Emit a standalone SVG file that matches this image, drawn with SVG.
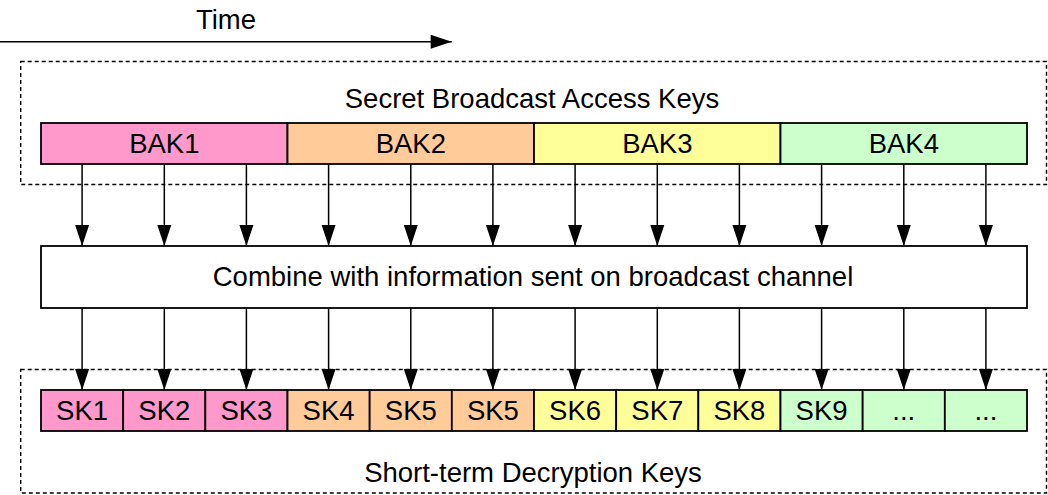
<svg xmlns="http://www.w3.org/2000/svg" width="1048" height="495" viewBox="0 0 1048 495">
  <style>
    text { font-family: "Liberation Sans", Arial, sans-serif; font-size: 27.5px; fill: #000; text-anchor: middle; }
    .frame { fill: none; stroke: #000; stroke-width: 1.4; stroke-dasharray: 4 3; }
    .box { stroke: #000; stroke-width: 1.8; }
    .pink { fill: #FF99CC; }
    .orange { fill: #FFCC99; }
    .yellow { fill: #FFFF99; }
    .green { fill: #CCFFCC; }
    .white { fill: #FFFFFF; }
    .conn { stroke: #000; stroke-width: 1.5; fill: none; marker-end: url(#head); }
  </style>
  <defs>
    <marker id="head" markerUnits="userSpaceOnUse" markerWidth="23" markerHeight="15" refX="21" refY="7" orient="auto" overflow="visible">
      <path d="M0,0 L21,7 L0,14 Z" fill="#000"/>
    </marker>
  </defs>

  <!-- time axis -->
  <g id="time">
    <text x="226" y="28.5">Time</text>
    <line class="conn" x1="0" y1="41.7" x2="451.7" y2="41.7"/>
  </g>

  <!-- dashed groupings -->
  <g id="bak-group">
    <rect class="frame" x="20.7" y="61.5" width="1025.8" height="123"/>
    <text x="532" y="107.5">Secret Broadcast Access Keys</text>
  </g>
  <g id="sk-group">
    <rect class="frame" x="20.7" y="369.5" width="1025.8" height="123.5"/>
    <text x="533" y="482">Short-term Decryption Keys</text>
  </g>

  <!-- broadcast access keys -->
  <g id="bak1"><rect class="box pink" x="41" y="123" width="246.5" height="41"/><text x="164.3" y="152.5">BAK1</text></g>
  <g id="bak2"><rect class="box orange" x="287.5" y="123" width="246.5" height="41"/><text x="410.8" y="152.5">BAK2</text></g>
  <g id="bak3"><rect class="box yellow" x="534" y="123" width="246.5" height="41"/><text x="657.3" y="152.5">BAK3</text></g>
  <g id="bak4"><rect class="box green" x="780.5" y="123" width="246.5" height="41"/><text x="903.8" y="152.5">BAK4</text></g>

  <!-- combiner -->
  <g id="combine">
    <rect class="box white" x="41" y="246" width="986" height="62"/>
    <text x="533" y="285.5">Combine with information sent on broadcast channel</text>
  </g>

  <!-- short-term keys -->
  <g id="sk1"><rect class="box pink" x="41" y="390" width="82.17" height="41"/><text x="82.1" y="420">SK1</text></g>
  <g id="sk2"><rect class="box pink" x="123.17" y="390" width="82.17" height="41"/><text x="164.3" y="420">SK2</text></g>
  <g id="sk3"><rect class="box pink" x="205.33" y="390" width="82.17" height="41"/><text x="246.4" y="420">SK3</text></g>
  <g id="sk4"><rect class="box orange" x="287.5" y="390" width="82.17" height="41"/><text x="328.6" y="420">SK4</text></g>
  <g id="sk5a"><rect class="box orange" x="369.67" y="390" width="82.17" height="41"/><text x="410.8" y="420">SK5</text></g>
  <g id="sk5b"><rect class="box orange" x="451.83" y="390" width="82.17" height="41"/><text x="492.9" y="420">SK5</text></g>
  <g id="sk6"><rect class="box yellow" x="534" y="390" width="82.17" height="41"/><text x="575.1" y="420">SK6</text></g>
  <g id="sk7"><rect class="box yellow" x="616.17" y="390" width="82.17" height="41"/><text x="657.3" y="420">SK7</text></g>
  <g id="sk8"><rect class="box yellow" x="698.33" y="390" width="82.17" height="41"/><text x="739.4" y="420">SK8</text></g>
  <g id="sk9"><rect class="box green" x="780.5" y="390" width="82.17" height="41"/><text x="821.6" y="420">SK9</text></g>
  <g id="sk10"><rect class="box green" x="862.67" y="390" width="82.17" height="41"/><text x="903.8" y="420">...</text></g>
  <g id="sk11"><rect class="box green" x="944.83" y="390" width="82.17" height="41"/><text x="985.9" y="420">...</text></g>

  <!-- connectors: access keys to combiner, combiner to short-term keys -->
  <g id="connectors">
    <path class="conn" d="M82.1,164 V246"/>
    <path class="conn" d="M164.3,164 V246"/>
    <path class="conn" d="M246.4,164 V246"/>
    <path class="conn" d="M328.6,164 V246"/>
    <path class="conn" d="M410.8,164 V246"/>
    <path class="conn" d="M492.9,164 V246"/>
    <path class="conn" d="M575.1,164 V246"/>
    <path class="conn" d="M657.3,164 V246"/>
    <path class="conn" d="M739.4,164 V246"/>
    <path class="conn" d="M821.6,164 V246"/>
    <path class="conn" d="M903.8,164 V246"/>
    <path class="conn" d="M985.9,164 V246"/>

    <path class="conn" d="M82.1,308 V390"/>
    <path class="conn" d="M164.3,308 V390"/>
    <path class="conn" d="M246.4,308 V390"/>
    <path class="conn" d="M328.6,308 V390"/>
    <path class="conn" d="M410.8,308 V390"/>
    <path class="conn" d="M492.9,308 V390"/>
    <path class="conn" d="M575.1,308 V390"/>
    <path class="conn" d="M657.3,308 V390"/>
    <path class="conn" d="M739.4,308 V390"/>
    <path class="conn" d="M821.6,308 V390"/>
    <path class="conn" d="M903.8,308 V390"/>
    <path class="conn" d="M985.9,308 V390"/>
  </g>
</svg>
